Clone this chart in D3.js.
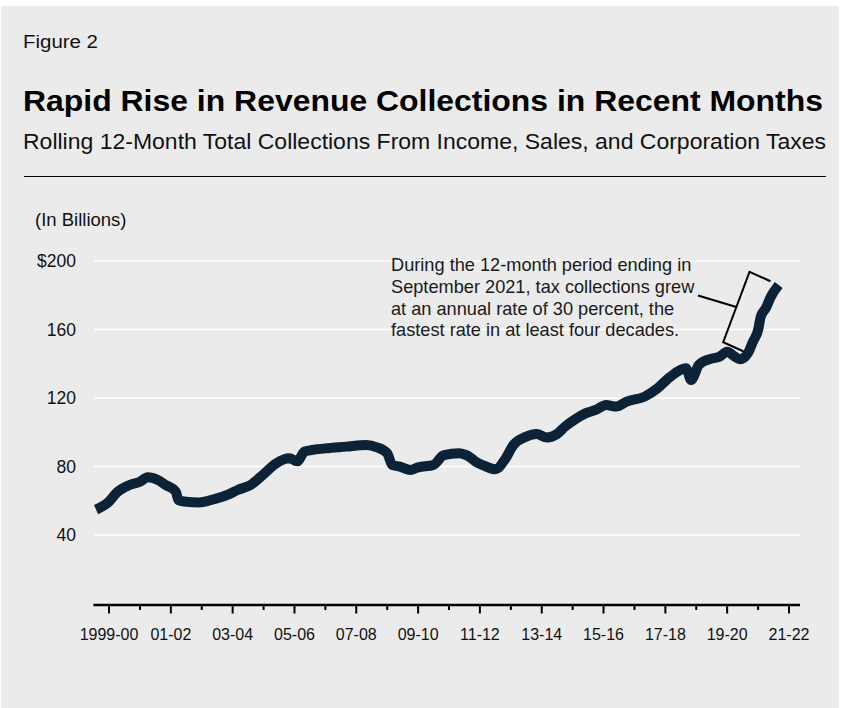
<!DOCTYPE html>
<html>
<head>
<meta charset="utf-8">
<script src="https://cdn.jsdelivr.net/npm/d3@7"></script>
<style>
  html, body { margin: 0; padding: 0; background: #ffffff; }
  svg { display: block; }
  text { font-family: "Liberation Sans", Arial, Helvetica, sans-serif; }
</style>
</head>
<body>
<svg id="chart" width="842" height="708"></svg>
<script>
// Rolling 12-month totals (billions of dollars), by month ending
const months = [
  "1999-08","2000-01","2000-04","2000-09","2001-01","2001-04","2001-08","2001-11",
  "2002-03","2002-04","2002-07","2002-12","2003-06","2003-11","2004-03","2004-08",
  "2005-01","2005-06","2005-11","2006-02","2006-05","2007-01","2007-09","2008-05",
  "2008-09","2009-01","2009-03","2009-06","2009-10","2010-01","2010-07","2010-11",
  "2011-05","2011-08","2011-12","2012-03","2012-07","2012-11","2013-02","2013-07",
  "2013-11","2014-03","2014-07","2014-10","2015-02","2015-06","2015-10","2016-02",
  "2016-06","2016-10","2017-05","2017-10","2018-03","2018-09","2018-11","2019-02",
  "2019-06","2019-10","2020-01","2020-04","2020-06","2020-09","2020-11","2021-01",
  "2021-02","2021-04","2021-06","2021-09"
];
const collections = [
  54.8, 59.5, 64.7, 69.2, 71.1, 73.7, 72.1, 69.2,
  65.3, 60.4, 59.4, 59.0, 61.0, 63.4, 66.3, 69.2,
  75.5, 81.9, 84.8, 83.0, 88.7, 90.6, 91.6, 92.6,
  91.2, 87.7, 80.9, 79.9, 78.0, 79.5, 80.9, 86.7,
  87.7, 86.5, 82.2, 80.3, 78.4, 84.8, 92.6, 97.4,
  99.0, 97.0, 99.0, 103.2, 107.6, 111.0, 113.0, 115.9,
  115.0, 117.9, 120.8, 125.7, 132.4, 137.3, 130.5, 139.3,
  142.6, 144.1, 147.0, 144.1, 142.6, 146.1, 152.9, 159.7,
  167.5, 172.4, 179.2, 186.0
];

// Fiscal-year axis: labelled ticks every other year, plain ticks between
const fiscalYearLabels = ["1999-00","01-02","03-04","05-06","07-08","09-10",
                          "11-12","13-14","15-16","17-18","19-20","21-22"];
const yTicks = [40, 80, 120, 160, 200];
const yTickLabels = ["40", "80", "120", "160", "$200"];

// Bracketed stretch called out by the note
const highlightStart = "2020-09";
const highlightEnd = "2021-09";
const noteLines = [
  "During the 12-month period ending in",
  "September 2021, tax collections grew",
  "at an annual rate of 30 percent, the",
  "fastest rate in at least four decades."
];

const parseMonth = d3.timeParse("%Y-%m");
const data = months.map((m, i) => ({ date: parseMonth(m), value: collections[i] }));

const svg = d3.select("#chart");

// panel background
svg.append("rect").attr("x", 1).attr("y", 6).attr("width", 838).attr("height", 702)
  .attr("fill", "#ebebeb");

// headings
svg.append("text").attr("x", 23).attr("y", 48).attr("font-size", 18)
  .attr("fill", "#111")
  .attr("textLength", 75).attr("lengthAdjust", "spacingAndGlyphs")
  .text("Figure 2");
svg.append("text").attr("x", 23).attr("y", 111).attr("font-size", 29.5)
  .attr("font-weight", "bold").attr("fill", "#000")
  .attr("textLength", 800).attr("lengthAdjust", "spacingAndGlyphs")
  .text("Rapid Rise in Revenue Collections in Recent Months");
svg.append("text").attr("x", 23).attr("y", 149).attr("font-size", 21.5)
  .attr("fill", "#111")
  .attr("textLength", 803).attr("lengthAdjust", "spacingAndGlyphs")
  .text("Rolling 12-Month Total Collections From Income, Sales, and Corporation Taxes");
svg.append("line").attr("x1", 24).attr("x2", 826).attr("y1", 176.5).attr("y2", 176.5)
  .attr("stroke", "#000").attr("stroke-width", 1);

svg.append("text").attr("x", 35).attr("y", 226).attr("font-size", 18.5)
  .attr("fill", "#111").text("(In Billions)");

// scales
const x = d3.scaleTime()
  .domain([new Date(2000, 0, 1), new Date(2022, 0, 1)])
  .range([109, 789]);
const axisLeft = x(new Date(1999, 6, 1));
const axisRight = 800;
const y = d3.scaleLinear().domain([0, 200]).range([603.5, 261]);

// gridlines
svg.append("g").selectAll("line").data(yTicks).join("line")
  .attr("x1", 94).attr("x2", axisRight)
  .attr("y1", d => y(d)).attr("y2", d => y(d))
  .attr("stroke", "#ffffff").attr("stroke-width", 1.5);

// y labels
svg.append("g").selectAll("text").data(yTicks).join("text")
  .attr("x", 76).attr("y", d => y(d) + 6)
  .attr("text-anchor", "end").attr("font-size", 17.5).attr("fill", "#111")
  .text((d, i) => yTickLabels[i]);

// x axis
const majorDates = fiscalYearLabels.map((_, i) => new Date(2000 + 2 * i, 0, 1));
const minorDates = d3.range(2001, 2022, 2).map(yr => new Date(yr, 0, 1));
const xAxisY = 605;
const xg = svg.append("g").attr("transform", `translate(0,${xAxisY})`);
xg.append("line").attr("x1", axisLeft).attr("x2", axisRight)
  .attr("stroke", "#000").attr("stroke-width", 2.5);
xg.selectAll(".major").data(majorDates).join("line").attr("class", "major")
  .attr("x1", d => x(d)).attr("x2", d => x(d)).attr("y1", 0).attr("y2", 8.5)
  .attr("stroke", "#000").attr("stroke-width", 2);
xg.selectAll(".minor").data(minorDates).join("line").attr("class", "minor")
  .attr("x1", d => x(d)).attr("x2", d => x(d)).attr("y1", 0).attr("y2", 5)
  .attr("stroke", "#000").attr("stroke-width", 2);
xg.selectAll("text").data(majorDates).join("text")
  .attr("x", d => x(d)).attr("y", 34.5)
  .attr("text-anchor", "middle").attr("font-size", 16).attr("fill", "#111")
  .text((d, i) => fiscalYearLabels[i]);

// collections line
const line = d3.line()
  .x(d => x(d.date)).y(d => y(d.value))
  .curve(d3.curveMonotoneX);
svg.append("path").datum(data)
  .attr("d", line)
  .attr("fill", "none")
  .attr("stroke", "#0c2237")
  .attr("stroke-width", 10)
  .attr("stroke-linejoin", "round");

// bracket beside the final year of the line
const a = data.find(d => +d.date === +parseMonth(highlightStart));
const b = data.find(d => +d.date === +parseMonth(highlightEnd));
const p1 = [x(a.date), y(a.value)];
const p2 = [x(b.date), y(b.value)];
const len = Math.hypot(p2[0] - p1[0], p2[1] - p1[1]);
const n = [(p2[1] - p1[1]) / len, -(p2[0] - p1[0]) / len];
const nn = n[0] > 0 ? [-n[0], -n[1]] : n; // normal pointing to the left of the line
const off = (p, k) => [p[0] + nn[0] * k, p[1] + nn[1] * k];
const bracket = [off(p2, 9), off(p2, 32), off(p1, 27), off(p1, 5)];
svg.append("path")
  .attr("d", d3.line()(bracket))
  .attr("fill", "none").attr("stroke", "#000").attr("stroke-width", 2);
const spineMid = [(bracket[1][0] + bracket[2][0]) / 2, (bracket[1][1] + bracket[2][1]) / 2];

// note text
const note = svg.append("text").attr("font-size", 18.2).attr("fill", "#1a1a1a");
noteLines.forEach((t, i) => {
  note.append("tspan").attr("x", 391).attr("y", 271 + i * 21.8).text(t);
});
svg.append("line")
  .attr("x1", 698).attr("y1", 295.5)
  .attr("x2", spineMid[0]).attr("y2", spineMid[1])
  .attr("stroke", "#000").attr("stroke-width", 2);
</script>
</body>
</html>
